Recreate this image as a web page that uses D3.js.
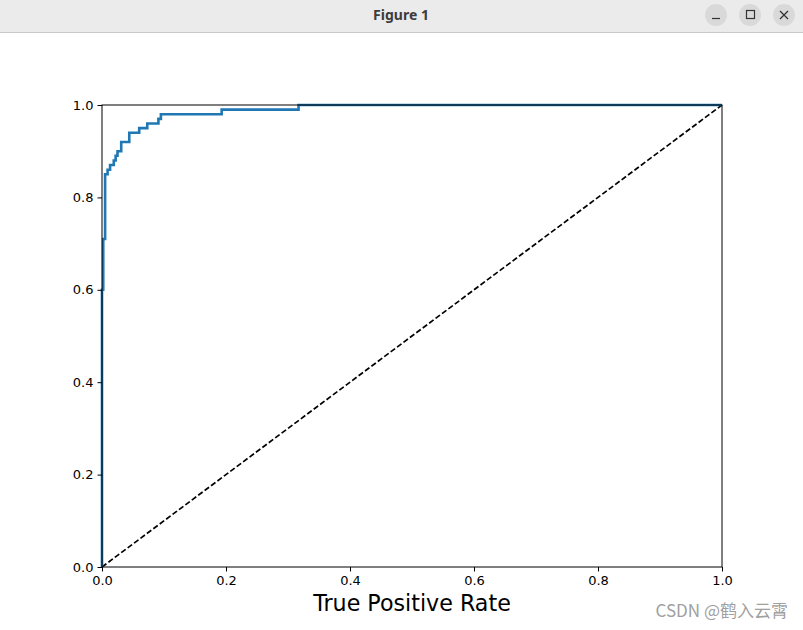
<!DOCTYPE html>
<html><head><meta charset="utf-8">
<script src="https://cdn.jsdelivr.net/npm/d3@7"></script>
<style>body{margin:0;background:#fff;overflow:hidden}svg{display:block}</style>
</head><body>
<svg id="c" width="803" height="630"></svg>
<script>
const fpr = [0, 0, 0.002, 0.002, 0.005, 0.005, 0.009, 0.009, 0.013, 0.013, 0.019, 0.019, 0.022, 0.022, 0.025, 0.025, 0.031, 0.031, 0.044, 0.044, 0.060, 0.060, 0.073, 0.073, 0.091, 0.091, 0.095, 0.095, 0.193, 0.193, 0.317, 0.317, 1.0];
const tpr = [0, 0.60, 0.60, 0.71, 0.71, 0.85, 0.85, 0.86, 0.86, 0.87, 0.87, 0.88, 0.88, 0.89, 0.89, 0.90, 0.90, 0.92, 0.92, 0.94, 0.94, 0.95, 0.95, 0.96, 0.96, 0.97, 0.97, 0.98, 0.98, 0.99, 0.99, 1.0, 1.0];
const diagX = [0, 1];
const diagY = [0, 1];
const tickValues = [0, 0.2, 0.4, 0.6, 0.8, 1.0];
const xLabel = "True Positive Rate";
const windowTitle = "Figure 1";

const svg = d3.select("#c");
// window chrome
svg.append("rect").attr("x",0).attr("y",0).attr("width",803).attr("height",32).attr("fill","#ebebeb");
svg.append("line").attr("x1",0).attr("x2",803).attr("y1",32.5).attr("y2",32.5).attr("stroke","#c9c9c9");
svg.append("text").attr("x",401).attr("y",20).attr("text-anchor","middle")
  .attr("font-family","Noto Sans, DejaVu Sans, sans-serif").attr("font-weight","bold").attr("font-size",14).attr("fill","#3c3c3c").text(windowTitle);
[716,750,784].forEach((cx,i)=>{
  svg.append("circle").attr("cx",cx).attr("cy",15).attr("r",11).attr("fill","#d9d9d9");
});
svg.append("line").attr("x1",712).attr("x2",720).attr("y1",18.5).attr("y2",18.5).attr("stroke","#333").attr("stroke-width",1.2);
svg.append("rect").attr("x",746.5).attr("y",10.5).attr("width",8).attr("height",8).attr("fill","none").attr("stroke","#333").attr("stroke-width",1.2);
svg.append("path").attr("d","M780,11L788,19M788,11L780,19").attr("stroke","#333").attr("stroke-width",1.3);

const L=102, R=722, T=105, B=567;
const x = d3.scaleLinear().domain([0,1]).range([L,R]);
const y = d3.scaleLinear().domain([0,1]).range([B,T]);

const g = svg.append("g");
g.append("path").datum(diagX.map((d,i)=>[d,diagY[i]]))
  .attr("d", d3.line().x(d=>x(d[0])).y(d=>y(d[1])))
  .attr("fill","none").attr("stroke","#000").attr("stroke-width",1.7).attr("stroke-dasharray","5.5,2.5");
g.append("path").datum(fpr.map((d,i)=>[d,tpr[i]]))
  .attr("d", d3.line().x(d=>x(d[0])).y(d=>y(d[1])))
  .attr("fill","none").attr("stroke","#1f77b4").attr("stroke-width",2.6).attr("stroke-linejoin","miter").attr("stroke-linecap","butt");

svg.append("rect").attr("x",L).attr("y",T).attr("width",R-L).attr("height",B-T).attr("fill","none").attr("stroke","#000").attr("stroke-width",1);

const font = "DejaVu Sans, sans-serif";
const xa = svg.append("g").attr("transform",`translate(0,${B})`)
  .call(d3.axisBottom(x).tickValues(tickValues).tickFormat(d3.format(".1f")).tickSize(4.5).tickPadding(4));
const ya = svg.append("g").attr("transform",`translate(${L},0)`)
  .call(d3.axisLeft(y).tickValues(tickValues).tickFormat(d3.format(".1f")).tickSize(4.5).tickPadding(4));
[xa,ya].forEach(a=>{
  a.select(".domain").remove();
  a.selectAll("text").attr("font-family",font).attr("font-size",13).attr("fill","#000");
  a.selectAll("line").attr("stroke","#000");
});

svg.append("text").attr("x",412).attr("y",611).attr("text-anchor","middle")
  .attr("font-family",font).attr("font-size",22.2).attr("fill","#000").text(xLabel);

svg.append("text").attr("x",788).attr("y",617).attr("text-anchor","end")
  .attr("font-family","Noto Sans CJK SC, sans-serif").attr("font-size",17).attr("fill","#a0a0a0").text("CSDN @鹤入云霄");
</script>
</body></html>
